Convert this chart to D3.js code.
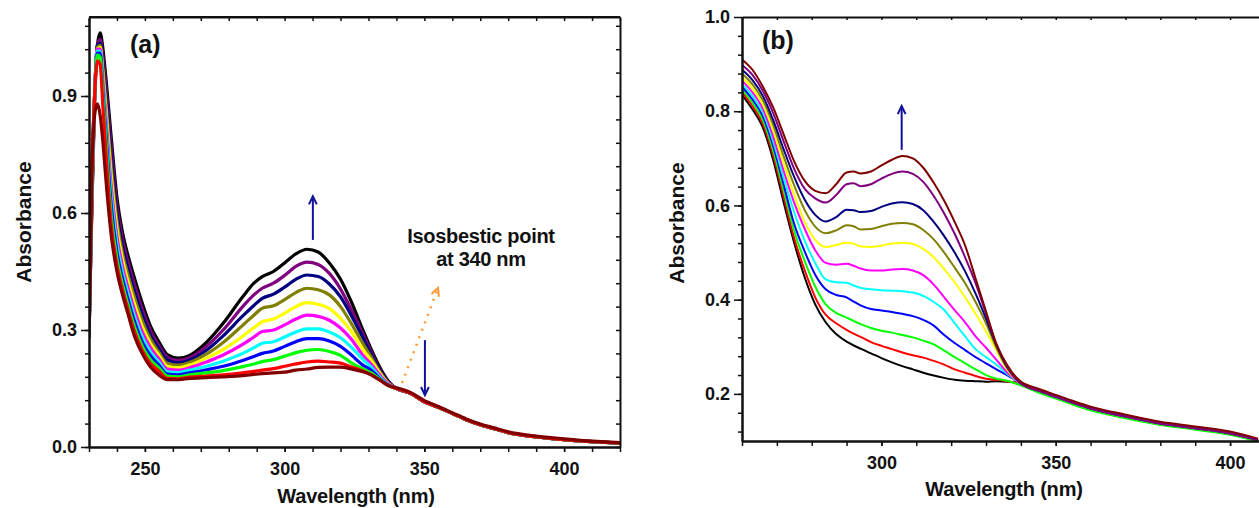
<!DOCTYPE html>
<html>
<head>
<meta charset="UTF-8">
<title>Absorbance spectra</title>
<script src="https://cdnjs.cloudflare.com/ajax/libs/d3/7.8.5/d3.min.js"></script>
<style>
    body { margin: 0; background: #fff; }
    svg text { font-family: "Liberation Sans", Arial, sans-serif; font-weight: bold; fill: #111; }
</style>
</head>
<body>
<div id="chart"></div>
<script>
// ---- panel (a) data ----
var wlA = [230,231,232,233,234,235,236,238,240,242,244,246,249,252,255,258,262,266,272,278,285,289,292,296,300,304,308,312,316,320,324,328,331,334,337,
           340,345,350,355,360,365,370,375,380,390,400,410,420];
var tailA       = [0.15,0.138,0.116,0.102,0.086,0.07,0.057,0.047,0.037,0.026,0.019,0.014,0.01];
var tailAMaroon = [0.152,0.14,0.119,0.104,0.088,0.072,0.059,0.049,0.039,0.028,0.021,0.015,0.011];

var aBlack   = [0.28,0.6,0.88,1.03,1.062,1.02,0.95,0.79,0.64,0.55,0.49,0.44,0.37,0.31,0.27,0.237,0.228,0.235,0.268,0.317,0.385,0.42,0.437,0.45,0.472,0.495,0.507,0.5,0.472,0.43,0.37,0.30,0.25,0.205,0.17];
var aPurple  = [0.28,0.62,0.9,1.03,1.045,1.0,0.93,0.765,0.62,0.532,0.473,0.423,0.355,0.298,0.26,0.23,0.222,0.229,0.258,0.3,0.36,0.39,0.407,0.42,0.44,0.463,0.474,0.468,0.445,0.405,0.35,0.29,0.243,0.2,0.168];
var aNavy    = [0.28,0.63,0.9,1.03,1.035,0.985,0.91,0.74,0.6,0.514,0.456,0.406,0.34,0.287,0.252,0.223,0.216,0.223,0.248,0.285,0.336,0.363,0.381,0.392,0.41,0.43,0.441,0.437,0.418,0.385,0.335,0.28,0.237,0.197,0.166];
var aOlive   = [0.28,0.64,0.9,1.025,1.03,0.97,0.89,0.715,0.58,0.497,0.44,0.39,0.325,0.276,0.243,0.215,0.21,0.217,0.238,0.268,0.312,0.338,0.356,0.362,0.378,0.396,0.407,0.403,0.39,0.36,0.315,0.265,0.23,0.193,0.165];
var aYellow  = [0.28,0.65,0.9,1.02,1.025,0.955,0.87,0.69,0.56,0.48,0.423,0.373,0.31,0.265,0.235,0.207,0.203,0.21,0.228,0.25,0.284,0.306,0.321,0.328,0.343,0.36,0.37,0.366,0.355,0.33,0.295,0.25,0.222,0.19,0.163];
var aMagenta = [0.29,0.66,0.9,1.02,1.02,0.94,0.85,0.665,0.54,0.463,0.407,0.357,0.296,0.255,0.226,0.2,0.197,0.203,0.218,0.236,0.263,0.282,0.296,0.3,0.313,0.328,0.338,0.335,0.325,0.305,0.275,0.235,0.212,0.185,0.162];
var aCyan    = [0.28,0.67,0.9,1.015,1.015,0.925,0.83,0.64,0.52,0.447,0.392,0.342,0.283,0.244,0.218,0.193,0.191,0.197,0.207,0.22,0.24,0.255,0.266,0.27,0.282,0.295,0.303,0.303,0.295,0.28,0.255,0.225,0.205,0.18,0.16];
var aBlue    = [0.28,0.68,0.9,1.01,1.01,0.91,0.81,0.615,0.5,0.432,0.378,0.328,0.27,0.234,0.21,0.187,0.185,0.19,0.198,0.207,0.222,0.232,0.24,0.246,0.258,0.27,0.278,0.278,0.272,0.258,0.235,0.21,0.197,0.176,0.159];
var aGreen   = [0.28,0.69,0.9,1.005,1.0,0.895,0.79,0.59,0.483,0.417,0.364,0.314,0.259,0.224,0.203,0.182,0.18,0.185,0.19,0.196,0.206,0.213,0.219,0.224,0.233,0.242,0.248,0.25,0.245,0.235,0.215,0.2,0.19,0.174,0.158];
var aRed     = [0.28,0.7,0.9,0.99,0.98,0.87,0.76,0.565,0.466,0.403,0.351,0.301,0.248,0.214,0.195,0.176,0.175,0.179,0.182,0.185,0.19,0.194,0.197,0.201,0.207,0.213,0.218,0.22,0.218,0.215,0.205,0.195,0.185,0.172,0.158];
var aMaroon  = [0.28,0.7,0.85,0.88,0.85,0.78,0.69,0.54,0.45,0.39,0.34,0.29,0.24,0.205,0.185,0.173,0.173,0.176,0.178,0.18,0.183,0.186,0.188,0.19,0.192,0.197,0.2,0.204,0.205,0.205,0.2,0.193,0.185,0.172,0.158];

// ---- panel (b) data ----
var wlB = [260,263,266,269,272,275,278,281,284,287,290,292,294,297,300,303,306,309,312,315,318,321,324,327,330,333,336,
           340,345,350,355,360,370,380,390,400,408];
var tailB       = [0.222,0.207,0.194,0.181,0.169,0.152,0.137,0.127,0.116,0.102];
var tailBMaroon = [0.226,0.211,0.198,0.185,0.173,0.156,0.141,0.131,0.12,0.105];
var tailBGreen  = [0.218,0.203,0.19,0.177,0.165,0.148,0.134,0.124,0.113,0.099];

var bMaroon  = [0.91,0.888,0.852,0.807,0.75,0.693,0.652,0.631,0.626,0.645,0.67,0.672,0.668,0.672,0.685,0.697,0.705,0.7,0.68,0.648,0.61,0.565,0.515,0.445,0.375,0.305,0.262];
var bPurple  = [0.898,0.877,0.843,0.795,0.735,0.677,0.635,0.615,0.606,0.622,0.645,0.647,0.641,0.645,0.657,0.667,0.672,0.667,0.65,0.62,0.583,0.54,0.49,0.435,0.37,0.305,0.26];
var bNavy    = [0.888,0.866,0.832,0.78,0.718,0.66,0.612,0.58,0.566,0.575,0.591,0.59,0.586,0.588,0.597,0.604,0.607,0.603,0.59,0.565,0.535,0.5,0.46,0.413,0.36,0.303,0.258];
var bOlive   = [0.88,0.857,0.823,0.77,0.703,0.642,0.59,0.555,0.541,0.547,0.558,0.556,0.549,0.55,0.556,0.561,0.563,0.56,0.548,0.528,0.5,0.468,0.435,0.395,0.35,0.298,0.255];
var bYellow  = [0.872,0.848,0.814,0.758,0.688,0.622,0.565,0.527,0.512,0.516,0.521,0.519,0.513,0.512,0.515,0.519,0.521,0.518,0.508,0.49,0.465,0.437,0.405,0.37,0.333,0.292,0.252];
var bMagenta = [0.865,0.84,0.805,0.745,0.672,0.605,0.55,0.505,0.478,0.474,0.476,0.472,0.466,0.462,0.462,0.464,0.465,0.462,0.452,0.432,0.405,0.378,0.352,0.322,0.298,0.272,0.246];
var bCyan    = [0.858,0.832,0.797,0.735,0.657,0.585,0.525,0.478,0.443,0.437,0.436,0.43,0.425,0.422,0.42,0.419,0.418,0.415,0.408,0.395,0.378,0.35,0.322,0.295,0.278,0.262,0.243];
var bBlue    = [0.852,0.825,0.789,0.725,0.643,0.56,0.502,0.453,0.422,0.41,0.405,0.396,0.388,0.38,0.377,0.374,0.37,0.365,0.357,0.345,0.325,0.308,0.293,0.278,0.265,0.252,0.24];
var bGreen   = [0.846,0.818,0.781,0.715,0.63,0.545,0.482,0.428,0.39,0.372,0.362,0.355,0.348,0.34,0.334,0.33,0.325,0.32,0.313,0.305,0.292,0.278,0.265,0.252,0.24,0.232,0.228];
var bRed     = [0.84,0.811,0.773,0.705,0.617,0.53,0.462,0.405,0.368,0.35,0.336,0.328,0.321,0.31,0.302,0.295,0.288,0.282,0.277,0.27,0.262,0.252,0.245,0.238,0.232,0.23,0.227];
var bBlack   = [0.835,0.804,0.765,0.695,0.605,0.52,0.447,0.39,0.352,0.327,0.311,0.303,0.296,0.286,0.276,0.267,0.259,0.252,0.245,0.239,0.234,0.23,0.228,0.227,0.226,0.227,0.226];

// tick labels
var xTicksA = [250, 300, 350, 400];
var yTicksA = [0.0, 0.3, 0.6, 0.9];
var xTicksB = [300, 350, 400];
var yTicksB = [0.2, 0.4, 0.6, 0.8, 1.0];

// series lists, drawn in this order (last on top)
var seriesA = [
    {c: "#000000", v: aBlack.concat(tailA)},
    {c: "#800080", v: aPurple.concat(tailA)},
    {c: "#000080", v: aNavy.concat(tailA)},
    {c: "#808000", v: aOlive.concat(tailA)},
    {c: "#ffff00", v: aYellow.concat(tailA)},
    {c: "#ff00ff", v: aMagenta.concat(tailA)},
    {c: "#00ffff", v: aCyan.concat(tailA)},
    {c: "#0000ff", v: aBlue.concat(tailA)},
    {c: "#00ff00", v: aGreen.concat(tailA)},
    {c: "#ff0000", v: aRed.concat(tailA)},
    {c: "#800000", v: aMaroon.concat(tailAMaroon)}
];
var seriesB = [
    {c: "#000000", v: bBlack.concat(tailB)},
    {c: "#ff0000", v: bRed.concat(tailB)},
    {c: "#00ff00", v: bGreen.concat(tailBGreen)},
    {c: "#0000ff", v: bBlue.concat(tailB)},
    {c: "#00ffff", v: bCyan.concat(tailB)},
    {c: "#ff00ff", v: bMagenta.concat(tailB)},
    {c: "#ffff00", v: bYellow.concat(tailB)},
    {c: "#808000", v: bOlive.concat(tailB)},
    {c: "#000080", v: bNavy.concat(tailB)},
    {c: "#800080", v: bPurple.concat(tailB)},
    {c: "#800000", v: bMaroon.concat(tailBMaroon)}
];

var W = 1259, H = 508;
var arrowColor = "#10109a";

var svg = d3.select("#chart").append("svg")
        .attr("width", W)
        .attr("height", H);

// scales
var xA = d3.scaleLinear().domain([230, 420]).range([89, 620]);
var yA = d3.scaleLinear().domain([0, 1.1]).range([447, 18]);
var xB = d3.scaleLinear().domain([260, 408.3]).range([742, 1259]);
var yB = d3.scaleLinear().domain([0.1, 1.0]).range([441, 17]);

var defs = svg.append("defs");
defs.append("clipPath").attr("id", "clipA").append("rect")
        .attr("x", 89).attr("y", 17).attr("width", 531).attr("height", 430);
defs.append("clipPath").attr("id", "clipB").append("rect")
        .attr("x", 742).attr("y", 17).attr("width", 517).attr("height", 424);

function drawSeries(list, wl, x, y, clip, width) {
    var line = d3.line()
            .x(function (d) { return x(d[0]); })
            .y(function (d) { return y(d[1]); })
            .curve(d3.curveMonotoneX);
    svg.append("g")
            .attr("clip-path", "url(#" + clip + ")")
            .selectAll("path")
            .data(list)
            .enter()
            .append("path")
            .attr("d", function (d) { return line(d3.zip(wl, d.v)); })
            .attr("fill", "none")
            .attr("stroke", function (d) { return d.c; })
            .attr("stroke-width", width)
            .attr("stroke-linejoin", "round");
}

drawSeries(seriesA, wlA, xA, yA, "clipA", 3.2);
drawSeries(seriesB, wlB, xB, yB, "clipB", 2);

// axes helper
function styleAxis(g) {
    g.selectAll("path.domain").attr("stroke", "#111").attr("stroke-width", 2);
    g.selectAll(".tick line").attr("stroke", "#111").attr("stroke-width", 1.5);
    g.selectAll("text").attr("font-size", "18px").attr("fill", "#111");
}

// panel (a) axes
svg.append("g").attr("transform", "translate(0,447)")
        .call(d3.axisBottom(xA).tickValues(d3.range(230, 421, 10)).tickFormat("").tickSize(5).tickSizeOuter(0))
        .call(styleAxis);
svg.append("g").attr("transform", "translate(0,447)")
        .call(d3.axisBottom(xA).tickValues(xTicksA).tickFormat(d3.format("d")).tickSize(5).tickPadding(10).tickSizeOuter(0))
        .call(styleAxis);
svg.append("g").attr("transform", "translate(0,17)")
        .call(d3.axisTop(xA).tickValues(d3.range(230, 421, 10)).tickFormat("").tickSize(-4).tickSizeOuter(0))
        .call(styleAxis);
svg.append("g").attr("transform", "translate(89,0)")
        .call(d3.axisLeft(yA).tickValues(d3.range(0, 1.1, 0.06)).tickFormat("").tickSize(4).tickSizeOuter(0))
        .call(styleAxis);
svg.append("g").attr("transform", "translate(89,0)")
        .call(d3.axisLeft(yA).tickValues(yTicksA).tickFormat(d3.format(".1f")).tickSize(8).tickPadding(4).tickSizeOuter(0))
        .call(styleAxis);
svg.append("g").attr("transform", "translate(620,0)")
        .call(d3.axisRight(yA).tickValues(d3.range(0, 1.1, 0.06)).tickFormat("").tickSize(-4).tickSizeOuter(0))
        .call(styleAxis);
svg.append("line").attr("x1", 89).attr("x2", 620).attr("y1", 17).attr("y2", 17)
        .attr("stroke", "#111").attr("stroke-width", 2);

// panel (b) axes
svg.append("g").attr("transform", "translate(0,441)")
        .call(d3.axisBottom(xB).tickValues(d3.range(260, 409, 10)).tickFormat("").tickSize(5).tickSizeOuter(0))
        .call(styleAxis);
svg.append("g").attr("transform", "translate(0,441)")
        .call(d3.axisBottom(xB).tickValues(xTicksB).tickFormat(d3.format("d")).tickSize(5).tickPadding(10).tickSizeOuter(0))
        .call(styleAxis);
svg.append("g").attr("transform", "translate(0,17)")
        .call(d3.axisTop(xB).tickValues(d3.range(260, 409, 10)).tickFormat("").tickSize(-3).tickSizeOuter(0))
        .call(styleAxis);
svg.append("g").attr("transform", "translate(742,0)")
        .call(d3.axisLeft(yB).tickValues(d3.range(0.12, 1.0, 0.04)).tickFormat("").tickSize(4).tickSizeOuter(0))
        .call(styleAxis);
svg.append("g").attr("transform", "translate(742,0)")
        .call(d3.axisLeft(yB).tickValues(yTicksB).tickFormat(d3.format(".1f")).tickSize(8).tickPadding(4).tickSizeOuter(0))
        .call(styleAxis);

// axis titles and notes
function addText(x, y, txt, size, rotate, anchor, spacing) {
    var t = svg.append("text")
            .attr("x", x).attr("y", y)
            .attr("font-size", size + "px")
            .attr("letter-spacing", (spacing || 0) + "px")
            .attr("text-anchor", anchor || "middle")
            .text(txt);
    if (rotate) {
        t.attr("transform", "rotate(-90," + x + "," + y + ")");
    }
    return t;
}
addText(356, 503, "Wavelength (nm)", 20, false, "middle", -0.2);
addText(1004, 496, "Wavelength (nm)", 20, false, "middle", -0.2);
addText(31, 222, "Absorbance", 21, true);
addText(684, 223, "Absorbance", 21, true);
addText(130, 53, "(a)", 25, false, "start");
addText(762, 49, "(b)", 25, false, "start");
addText(481, 243, "Isosbestic point", 20, false, "middle", -0.3);
addText(481, 266, "at 340 nm", 20, false, "middle", -0.3);

// arrows
function arrow(x1, y1, x2, y2, color, dash) {
    var g = svg.append("g")
            .attr("stroke", color)
            .attr("stroke-width", 2)
            .attr("fill", "none");
    var shaft = g.append("line")
            .attr("x1", x1).attr("y1", y1).attr("x2", x2).attr("y2", y2);
    if (dash) {
        shaft.attr("stroke-dasharray", dash).attr("stroke-width", 2.5);
    }
    var ang = Math.atan2(y2 - y1, x2 - x1);
    var len = 9, spread = 0.45;
    var p1 = [x2 - len * Math.cos(ang - spread), y2 - len * Math.sin(ang - spread)];
    var p2 = [x2 - len * Math.cos(ang + spread), y2 - len * Math.sin(ang + spread)];
    g.append("path")
            .attr("d", "M" + p1[0] + "," + p1[1] + "L" + x2 + "," + y2 + "L" + p2[0] + "," + p2[1])
            .attr("stroke-linejoin", "miter");
}
arrow(xA(310.1), yA(0.531), xA(310.1), yA(0.643), arrowColor);
arrow(xA(350.2), yA(0.274), xA(350.2), yA(0.133), arrowColor);
arrow(xA(342), yA(0.164), xA(354.9), yA(0.408), "#ff9933", "2,6");
arrow(xB(305.8), yB(0.718), xB(305.8), yB(0.811), arrowColor);
</script>
</body>
</html>
